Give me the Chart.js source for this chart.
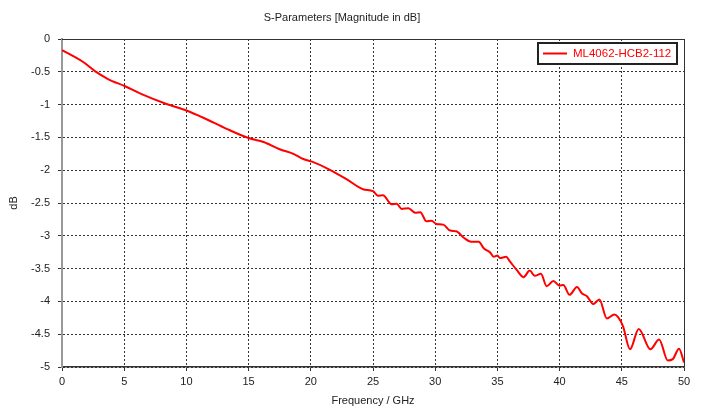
<!DOCTYPE html>
<html>
<head>
<meta charset="utf-8">
<script src="https://cdn.jsdelivr.net/npm/chart.js@4.4.1/dist/chart.umd.min.js"></script>
<style>
html, body { margin: 0; padding: 0; background: #fff; }
</style>
</head>
<body>
<canvas id="graficoSParam" width="702" height="409"></canvas>
<script>
// Datos (GHz, dB)
const frecuencias = [0, 0.9, 1.7, 2.65, 3.7, 5.07, 6.4, 8.4, 10.0, 11.36, 13.24, 15.0, 16.2, 17.5, 18.6, 19.4, 20.1,
    21.5, 22.9, 24.2, 25.0, 25.4, 25.8, 26.5, 26.9, 27.3, 27.85, 28.4, 28.8, 29.3, 29.7, 30.1, 30.65, 31.2, 31.7,
    32.3, 32.9, 33.5, 33.9, 34.4, 34.7, 35.0, 35.2, 35.7, 36.0, 36.55, 37.1, 37.6, 38.0, 38.5, 38.96, 39.5, 40.0,
    40.3, 40.8, 41.4, 41.8, 42.2, 42.7, 43.2, 43.8, 44.4, 44.7, 45.1, 45.66, 46.36, 47.3, 48.0, 48.7, 49.1, 49.6, 50.0]
const magnitudes = [-0.17, -0.26, -0.35, -0.49, -0.61, -0.72, -0.84, -0.99, -1.09, -1.20, -1.37, -1.51, -1.57, -1.68, -1.75, -1.83, -1.87,
    -1.99, -2.14, -2.29, -2.32, -2.39, -2.38, -2.52, -2.51, -2.59, -2.58, -2.65, -2.64, -2.78, -2.77, -2.82, -2.83, -2.92, -2.93,
    -3.03, -3.09, -3.09, -3.19, -3.25, -3.32, -3.30, -3.34, -3.32, -3.39, -3.52, -3.63, -3.53, -3.61, -3.58, -3.77, -3.69, -3.76,
    -3.75, -3.90, -3.78, -3.88, -3.92, -4.04, -3.97, -4.26, -4.20, -4.24, -4.38, -4.73, -4.42, -4.73, -4.58, -4.90, -4.88, -4.72, -4.93]
const nombreSerie = 'ML4062-HCB2-112'
const tituloGrafico = 'S-Parameters [Magnitude in dB]'
const tituloEjeX = 'Frequency / GHz'
const tituloEjeY = 'dB'

const fuente = 'Liberation Sans, Arial, sans-serif'
const rojo = '#ff0000'

// Marco superior/derecho y leyenda dentro del area
const marcoYLeyenda = {
    id: 'marcoYLeyenda',
    afterDraw(chart) {
        const { ctx, chartArea: a } = chart
        ctx.save()
        ctx.strokeStyle = '#333'
        ctx.lineWidth = 1
        ctx.beginPath()
        ctx.moveTo(a.left, a.top + 0.5)
        ctx.lineTo(a.right + 0.5, a.top + 0.5)
        ctx.lineTo(a.right + 0.5, a.bottom)
        ctx.stroke()

        // leyenda
        ctx.fillStyle = '#fff'
        ctx.fillRect(537, 42, 140, 22)
        ctx.lineWidth = 2
        ctx.strokeStyle = '#222'
        ctx.strokeRect(538, 43, 139, 21)
        ctx.strokeStyle = rojo
        ctx.beginPath()
        ctx.moveTo(543, 53.5)
        ctx.lineTo(567, 53.5)
        ctx.stroke()
        ctx.fillStyle = rojo
        ctx.font = '11.5px ' + fuente
        ctx.textBaseline = 'middle'
        ctx.fillText(nombreSerie, 573, 54)
        ctx.restore()
    }
}

const generarGrafico = () => {
    const lienzo = document.getElementById('graficoSParam')
    const puntos = frecuencias.map((f, i) => ({ x: f, y: magnitudes[i] }))

    new Chart(lienzo, {
        type: 'line',
        data: {
            datasets: [{
                label: nombreSerie,
                data: puntos,
                borderColor: rojo,
                borderWidth: 2,
                pointRadius: 0,
                tension: 0.35,
                cubicInterpolationMode: 'monotone'
            }]
        },
        options: {
            responsive: false,
            animation: false,
            layout: { padding: { top: 0, right: 18, bottom: 0, left: 0 } },
            plugins: {
                legend: { display: false },
                tooltip: { enabled: false },
                title: {
                    display: true,
                    text: tituloGrafico,
                    color: '#222',
                    font: { family: fuente, size: 11, weight: 'normal' },
                    padding: { top: 11, bottom: 14.8 }
                }
            },
            scales: {
                x: {
                    type: 'linear',
                    min: 0,
                    max: 50,
                    ticks: { stepSize: 5, color: '#222', padding: 4, font: { family: fuente, size: 11 } },
                    grid: { color: '#333', tickColor: '#333', tickLength: 4 },
                    border: { color: '#333', width: 1.5, dash: [2, 2] },
                    title: {
                        display: true,
                        text: tituloEjeX,
                        color: '#222',
                        font: { family: fuente, size: 11 },
                        padding: { top: 0, bottom: 1 }
                    },
                    afterFit: (escala) => { escala.height = 42 }
                },
                y: {
                    min: -5,
                    max: 0,
                    ticks: {
                        stepSize: 0.5,
                        color: '#222',
                        padding: 8,
                        font: { family: fuente, size: 11 },
                        callback: (valor) => String(Math.round(valor * 10) / 10)
                    },
                    grid: { color: '#333', tickColor: '#333', tickLength: 4 },
                    border: { color: '#999', width: 2, dash: [2, 2] },
                    title: {
                        display: true,
                        text: tituloEjeY,
                        color: '#222',
                        font: { family: fuente, size: 11 },
                        padding: { top: 7, bottom: 0 }
                    },
                    afterFit: (escala) => { escala.width = 62 }
                }
            }
        },
        plugins: [marcoYLeyenda]
    })
}

generarGrafico()
</script>
</body>
</html>
